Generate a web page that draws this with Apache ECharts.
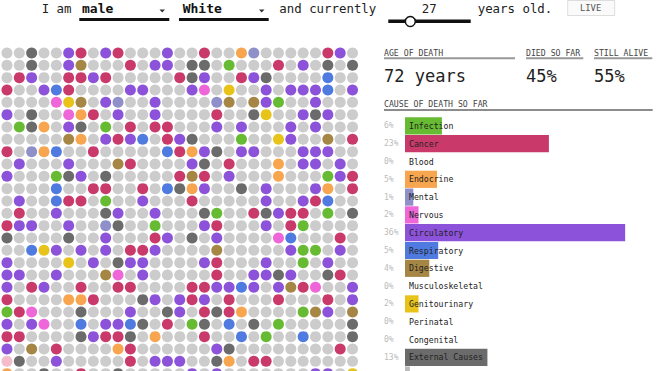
<!DOCTYPE html>
<html><head><meta charset="utf-8">
<script src="https://cdn.jsdelivr.net/npm/echarts@6/dist/echarts.min.js"></script>
<style>html,body{margin:0;padding:0;background:#fff}#c{width:660px;height:371px}</style>
</head><body><div id="c"></div>
<script>
// ---- data ----
const causes = ['Infection','Cancer','Blood','Endocrine','Mental','Nervous','Circulatory','Respiratory','Digestive','Musculoskeletal','Genitourinary','Perinatal','Congenital','External Causes','Other'];
const causeCodes = ['I','C','B','E','M','N','V','R','D','K','G','P','Q','X','O'];
const causeColors = ['#66bb33','#c93a6b','#f5bccb','#f7a64f','#8f8fc9','#ee66d8','#8c52d9','#4f7ae0','#a68644','#7fc6c6','#e8c31a','#9ad0ea','#e39a9a','#6b6b6b','#bbbbbb'];
const pctValues = [6.0,23.4,0,5.2,1.35,2.2,35.8,5.4,3.95,0,2.2,0,0,13.4,0.8];
const pctLabels = ['6%','23%','0%','5%','1%','2%','36%','5%','4%','0%','2%','0%','0%','13%','1%'];
const aliveColor = '#cccccc';
// one string per row of dots; '.' = still alive, letters = cause codes above
const dotRows = [
"..X..VC.VC...V..C..EM.....CV.",
"..X..VD...C.VV.XX.I...C.V.X.X",
".CV..CCVC.....CXV..CVX....R..",
"C..VRC....VV...VN.G..V.VVVR.V",
"....NGD.VM..V....MD.DVI..V...",
"V.X..NEC.V..V....C..XG..VXV..",
".IXE.VX.I.C.CC...V.V...V.V...",
".....DE.VCVR.CVX...I..GV..D.C",
"C.MER..C.....RCEVX.VV...VVV..",
".V...V...DC....VX.C...E.VV.V.",
"V...IXV.X.....CDC.V...E...IVC",
"....R..CC..C.RXEV..X.V...VE.C",
".V..RCC.I..V...C.....V..VCR..",
".C..V...XV..V...XI..CXVCC.I.X",
"CVV..V..MX..I...VC...V.CI....",
"X....X..V...CV.X.V....NR...C.",
"..RGV.V.V.CCV....D.....VII.V.",
"V....G.V.XVV....VC...V..I.V..",
"VV..V...DN.V.....C..VVXV..XC.",
"V.CV..C..CC....CCVVRV.VDCN..V",
"C....EEC...XV.VCV.C...C...C.V",
"ICN...X...V..XV.CXCE....IDV.D",
"V.VN..R.VVRX.C.IX.R.X.I.....X",
"CC....XVCCX.E...C..R.I..R...X",
"V.D.C....EC......VX........C.",
"BX..V.....C.VVV..XE.CC.......",
"E..X..C..X.....V.V.......VV.G"
];

// ---- build ----
const codeColor = {'.': aliveColor};
causeCodes.forEach((k,i)=>codeColor[k]=causeColors[i]);
const dots = [];
dotRows.forEach((row,r)=>{ for(let c=0;c<row.length;c++){ dots.push({value:[c,r], itemStyle:{color:codeColor[row[c]]}}); } });
const nCols = dotRows[0].length, nRows = dotRows.length;

const FF = '"DejaVu Sans Mono", "Liberation Mono", monospace';
function txt(x,y,t,size,fill,opts){ return {type:'text', silent:true, style:Object.assign({x:x,y:y,text:t,fill:fill,font:size+'px '+FF,verticalAlign:'middle',align:'left'}, opts||{})}; }
function ln(x1,y1,x2,y2,stroke,w){ return {type:'line', silent:true, shape:{x1,y1,x2,y2}, style:{stroke:stroke,lineWidth:w}}; }

const chart = echarts.init(document.getElementById('c'), null, {renderer:'svg'});
chart.setOption({
  animation:false,
  backgroundColor:'#fff',
  grid:[
    {left:0.8, top:46.8, width:357.9, height:333, containLabel:false, outerBoundsMode:'none'},
    {left:405, top:117, width:246, height:267, containLabel:false, outerBoundsMode:'none'}
  ],
  xAxis:[
    {gridIndex:0, type:'value', min:-0.5, max:nCols-0.5, show:false},
    {gridIndex:1, type:'value', min:0, max:40, show:false}
  ],
  yAxis:[
    {gridIndex:0, type:'value', min:-0.5, max:nRows-0.5, inverse:true, show:false},
    {gridIndex:1, type:'category', data:causes, inverse:true, position:'left', z:10,
      axisLine:{show:false}, axisTick:{show:false}, splitLine:{show:false},
      axisLabel:{inside:true, margin:4, color:'#222', fontSize:8.2, fontFamily:FF, align:'left'}},
    {gridIndex:1, type:'category', data:pctLabels, inverse:true, position:'left', z:10,
      axisLine:{show:false}, axisTick:{show:false}, splitLine:{show:false},
      axisLabel:{margin:21, color:'#bbbbbb', fontSize:8, fontFamily:FF, align:'left'}}
  ],
  series:[
    {type:'scatter', xAxisIndex:0, yAxisIndex:0, symbol:'circle', symbolSize:11, silent:true,
      itemStyle:{opacity:1}, data:dots},
    {type:'bar', xAxisIndex:1, yAxisIndex:1, barWidth:17.2, silent:true,
      data:pctValues.map((v,i)=>({value:v, itemStyle:{color:causeColors[i]}}))}
  ],
  graphic:[
    txt(41.7,8.5,'I am',12.4,'#222'),
    txt(82,8.5,'male',13,'#111',{font:'bold 13px '+FF}),
    {type:'polygon', silent:true, shape:{points:[[159.5,9.5],[165,9.5],[162.2,12.5]]}, style:{fill:'#333'}},
    ln(79.3,19.6,169.3,19.6,'#111',3),
    txt(182.7,8.5,'White',13,'#111',{font:'bold 13px '+FF}),
    {type:'polygon', silent:true, shape:{points:[[259,9.5],[264.5,9.5],[261.7,12.5]]}, style:{fill:'#333'}},
    ln(179,19.6,268.7,19.6,'#111',3),
    txt(279.3,8.5,'and currently',12.4,'#222'),
    ln(388.3,21.3,470.7,21.3,'#111',3.5),
    {type:'circle', silent:true, shape:{cx:410.3,cy:21.5,r:5}, style:{fill:'#fff',stroke:'#111',lineWidth:1.5}, z:10},
    txt(421.7,8,'27',12.4,'#222'),
    txt(477.7,8.5,'years old.',12.4,'#222'),
    {type:'rect', silent:true, shape:{x:567.7,y:0.5,width:47,height:15}, style:{fill:'#fafafa',stroke:'#dddddd',lineWidth:1}},
    txt(580,8,'LIVE',8.8,'#555'),
    txt(384,52.5,'AGE OF DEATH',8.2,'#444'),
    ln(384,58.3,515,58.3,'#999',2),
    txt(526,52.5,'DIED SO FAR',8.2,'#444'),
    ln(526,58.3,583.3,58.3,'#999',2),
    txt(594,52.5,'STILL ALIVE',8.2,'#444'),
    ln(594,58.3,652.3,58.3,'#999',2),
    txt(384,75.5,'72 years',17,'#222'),
    txt(526,75.5,'45%',17,'#222'),
    txt(594,75.5,'55%',17,'#222'),
    txt(384,103.8,'CAUSE OF DEATH SO FAR',8.2,'#444'),
    ln(384,110,652.7,110,'#666',1.5)
  ]
});
</script></body></html>
